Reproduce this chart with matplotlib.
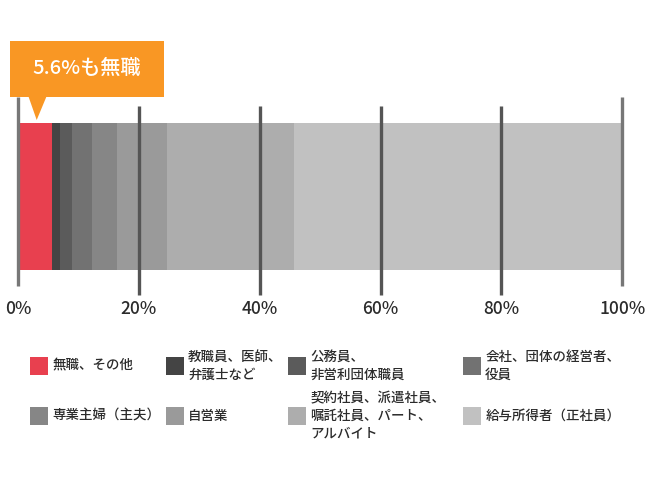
import matplotlib
matplotlib.use('Agg')
import matplotlib.pyplot as plt
from matplotlib.patches import Rectangle, Polygon

plt.rcParams['font.family'] = ['Noto Sans CJK JP', 'DejaVu Sans']

# data
labels = ['無職、その他', '教職員、医師、\n弁護士など', '公務員、\n非営利団体職員',
          '会社、団体の経営者、\n役員', '専業主婦（主夫）', '自営業',
          '契約社員、派遣社員、\n嘱託社員、パート、\nアルバイト', '給与所得者（正社員）']
shares = [5.6, 1.3, 2.0, 3.4, 4.0, 8.3, 21.0, 54.4]
colors = ['#e8404f', '#444444', '#5b5b5b', '#727272', '#868686',
          '#9a9a9a', '#adadad', '#c1c1c1']
ticks = [0, 20, 40, 60, 80, 100]
tick_labels = ['0%', '20%', '40%', '60%', '80%', '100%']
callout = '5.6%も無職'

W, H = 650, 487
fig = plt.figure(figsize=(6.5, 4.87), dpi=100)

# bar area (pixel layout)
x0, x1 = 18.0, 622.3
bar_top, bar_bot = 122.7, 270.0
ax = fig.add_axes([x0 / W, 1 - bar_bot / H, (x1 - x0) / W, (bar_bot - bar_top) / H])
ax.set_xlim(0, 100)
ax.set_ylim(0, 1)
ax.axis('off')


def frac(y):
    return (bar_bot - y) / (bar_bot - bar_top)


left = 0
for s, c in zip(shares, colors):
    ax.barh(0.5, s, left=left, height=1, color=c, linewidth=0)
    left += s

for t, lab in zip(ticks, tick_labels):
    if t in (0, 100):
        lo, hi, col = frac(286), frac(96.7), '#777777'
    else:
        lo, hi, col = frac(294.5), frac(106), '#555555'
    ax.axvline(t, lo, hi, color=col, lw=2.4, clip_on=False, solid_capstyle='butt')
    ax.text(t, frac(308.5), lab, transform=ax.get_xaxis_transform(),
            ha='center', va='center', fontsize=12.5, color='#2b2b2b',
            fontweight='medium')

# overlay for callout + legend, pixel coords
ov = fig.add_axes([0, 0, 1, 1])
ov.set_xlim(0, W)
ov.set_ylim(H, 0)
ov.axis('off')

orange = '#f99724'
ov.add_patch(Rectangle((10, 41), 153.7, 55.7, color=orange, lw=0))
ov.add_patch(Polygon([[28.3, 96], [46.7, 96], [36.7, 120]], color=orange, lw=0))
ov.text(86.7, 68.5, callout, color='white', fontsize=14.5, ha='center', va='center',
        fontweight='medium')

col_x = [30, 165.7, 287.7, 462.7]
row_y = [365.7, 416]
for i, (lab, c) in enumerate(zip(labels, colors)):
    r, k = divmod(i, 4)
    ov.add_patch(Rectangle((col_x[k], row_y[r] - 9), 18, 18, color=c, lw=0))
    ov.text(col_x[k] + 22.5, row_y[r], lab, ha='left', va='center',
            fontsize=9.7, color='#2b2b2b', linespacing=1.3, fontweight='medium')

fig.savefig('out.png', dpi=100)
